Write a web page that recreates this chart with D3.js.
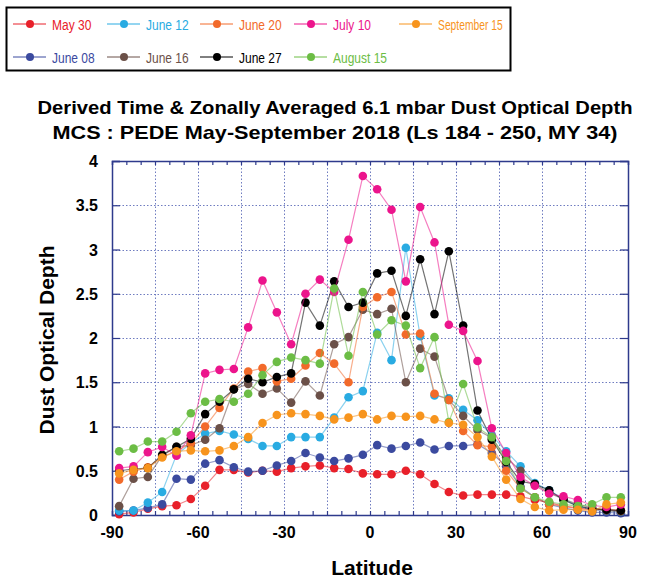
<!DOCTYPE html>
<html lang="en">
  <head>
    <meta charset="utf-8">
    <title>MCS Dust Optical Depth</title>
    <script type="text/javascript" src="https://cdnjs.cloudflare.com/ajax/libs/d3/7.8.5/d3.min.js"></script>
    <style type="text/css">
      body { margin: 0; background: #fff; }
      text { font-family: "Liberation Sans", Arial, sans-serif; }
    </style>
  </head>
  <body>
    <script type="text/javascript">

      //Width and height
      var w = 647;
      var h = 579;

      //Latitude bin centres
      var latitudes = [-87.5, -82.5, -77.5, -72.5, -67.5, -62.5, -57.5, -52.5, -47.5, -42.5,
                       -37.5, -32.5, -27.5, -22.5, -17.5, -12.5, -7.5, -2.5, 2.5, 7.5,
                       12.5, 17.5, 22.5, 27.5, 32.5, 37.5, 42.5, 47.5, 52.5, 57.5,
                       62.5, 67.5, 72.5, 77.5, 82.5, 87.5];

      var xTicks = [-90, -60, -30, 0, 30, 60, 90];
      var yTicks = [0, 0.5, 1, 1.5, 2, 2.5, 3, 3.5, 4];

      //Series, in legend order
      var seriesNames = ["May 30", "June 08", "June 12", "June 16", "June 20",
                         "June 27", "July 10", "August 15", "September 15"];
      var seriesColors = ["#e8202a", "#3b4a9f", "#29abe2", "#6b5048", "#f26a2a",
                          "#000000", "#ec148c", "#6cbd45", "#f7941d"];

      var may30 = [0.01, 0.03, 0.07, 0.10, 0.11, 0.18, 0.33, 0.51, 0.51, 0.48, 0.50, 0.49,
                   0.53, 0.55, 0.56, 0.53, 0.52, 0.47, 0.46, 0.46, 0.50, 0.46, 0.35, 0.26,
                   0.22, 0.23, 0.23, 0.23, 0.21, 0.17, 0.14, 0.10, 0.08, 0.06, 0.05, 0.05];
      var june08 = [0.04, 0.05, 0.08, 0.12, 0.41, 0.40, 0.58, 0.62, 0.54, 0.49, 0.50, 0.56,
                    0.61, 0.70, 0.65, 0.61, 0.64, 0.68, 0.79, 0.75, 0.78, 0.82, 0.74, 0.78,
                    0.78, 0.80, 0.70, 0.55, 0.32, 0.20, 0.12, 0.08, 0.05, 0.03, 0.03, 0.02];
      var june12 = [0.05, 0.05, 0.14, 0.26, 0.68, 0.81, 0.92, 0.95, 0.91, 0.86, 0.78, 0.78,
                    0.88, 0.88, 0.88, 1.10, 1.33, 1.40, 2.06, 1.75, 3.02, 2.02, 1.35, 1.32,
                    1.19, 1.07, 0.90, 0.72, 0.55, 0.36, 0.28, 0.18, 0.10, 0.06, 0.05, 0.04];
      var june16 = [0.10, 0.41, 0.43, 0.67, 0.77, 0.79, 0.85, 0.98, 1.42, 1.48, 1.37, 1.43,
                    1.27, 1.51, 1.35, 1.93, 2.01, 2.32, 2.27, 2.33, 1.50, 1.88, 1.79, 1.30,
                    1.12, 0.96, 0.87, 0.65, 0.50, 0.35, 0.25, 0.18, 0.12, 0.08, 0.05, 0.04];
      var june20 = [0.40, 0.49, 0.54, 0.66, 0.72, 0.81, 1.00, 1.21, 1.43, 1.62, 1.66, 1.51,
                    1.54, 1.69, 1.83, 1.71, 1.50, 2.35, 2.46, 2.52, 2.04, 2.05, 1.37, 1.30,
                    0.95, 0.79, 0.77, 0.50, 0.30, 0.20, 0.12, 0.10, 0.07, 0.06, 0.07, 0.05];
      var june27 = [0.50, 0.52, 0.53, 0.68, 0.77, 0.86, 1.14, 1.28, 1.42, 1.54, 1.50, 1.56,
                    1.60, 2.40, 2.14, 2.64, 2.35, 2.40, 2.73, 2.76, 2.25, 2.89, 2.27, 2.98,
                    2.14, 1.18, 0.85, 0.60, 0.38, 0.35, 0.28, 0.17, 0.10, 0.07, 0.06, 0.05];
      var july10 = [0.53, 0.55, 0.71, 0.77, 0.67, 0.90, 1.60, 1.64, 1.65, 2.12, 2.65, 2.29,
                    1.93, 2.50, 2.66, 2.52, 3.11, 3.83, 3.68, 3.45, 2.64, 3.48, 3.08, 2.15,
                    2.08, 1.74, 0.98, 0.70, 0.43, 0.33, 0.24, 0.21, 0.17, 0.11, 0.09, 0.12];
      var aug15 = [0.72, 0.75, 0.83, 0.83, 0.94, 1.15, 1.28, 1.31, 1.28, 1.37, 1.58, 1.73,
                   1.78, 1.75, 1.71, 2.56, 1.80, 2.52, 2.04, 2.20, 2.14, 1.66, 2.01, 1.05,
                   1.48, 0.99, 0.88, 0.61, 0.30, 0.20, 0.15, 0.12, 0.10, 0.12, 0.20, 0.20];
      var sep15 = [0.47, 0.51, 0.53, 0.65, 0.72, 0.73, 0.72, 0.73, 0.78, 0.88, 1.04, 1.13,
                   1.15, 1.14, 1.12, 1.08, 1.10, 1.14, 1.08, 1.12, 1.11, 1.12, 1.08, 1.04,
                   1.02, 0.88, 0.66, 0.40, 0.18, 0.09, 0.05, 0.06, 0.06, 0.04, 0.12, 0.14];

      var seriesValues = [may30, june08, june12, june16, june20, june27, july10, aug15, sep15];

      var series = seriesNames.map(function(name, i) {
        return {
          name: name,
          color: seriesColors[i],
          points: latitudes.map(function(lat, j) { return { lat: lat, v: seriesValues[i][j] }; })
        };
      });

      //Plot box (note: "top" is a reserved window property, so prefix these)
      var plotLeft = 112, plotRight = 628, plotTop = 161, plotBottom = 515;
      var axisColor = "#2e3a8c";

      var x = d3.scaleLinear().domain([-90, 90]).range([plotLeft, plotRight]);
      var y = d3.scaleLinear().domain([0, 4]).range([plotBottom, plotTop]);

      var svg = d3.select("body")
                  .append("svg")
                  .attr("width", w)
                  .attr("height", h);

      //Legend box
      svg.append("rect")
         .attr("x", 6.5).attr("y", 7.5)
         .attr("width", 504).attr("height", 63)
         .attr("fill", "none")
         .attr("stroke", "#000")
         .attr("stroke-width", 2);

      var legendCols = [13, 107, 200, 294, 399];
      var legendRows = [24, 57];

      var legend = svg.selectAll("g.legend")
                      .data(series)
                      .enter()
                      .append("g")
                      .attr("class", "legend")
                      .attr("transform", function(d, i) {
                        return "translate(" + legendCols[Math.floor(i / 2)] + "," + legendRows[i % 2] + ")";
                      });

      legend.append("line")
            .attr("x1", 0).attr("x2", 33)
            .attr("stroke", function(d) { return d.color; })
            .attr("stroke-width", 1);

      legend.append("circle")
            .attr("cx", 17).attr("r", 4)
            .attr("fill", function(d) { return d.color; });

      //narrow-looking legend text: squeeze horizontally
      legend.append("text")
            .attr("transform", "translate(39,5.5) scale(0.8,1)")
            .attr("font-size", 15)
            .attr("fill", function(d) { return d.color; })
            .text(function(d) { return d.name; });

      //last entry is squeezed a bit more to fit the box
      legend.filter(function(d, i) { return i === series.length - 1; })
            .select("text")
            .attr("textLength", 81)
            .attr("lengthAdjust", "spacingAndGlyphs");

      //Title
      svg.append("text")
         .attr("x", 335).attr("y", 114)
         .attr("text-anchor", "middle")
         .attr("font-size", 19).attr("font-weight", "bold")
         .attr("textLength", 595).attr("lengthAdjust", "spacingAndGlyphs")
         .text("Derived Time & Zonally Averaged 6.1 mbar Dust Optical Depth");

      svg.append("text")
         .attr("x", 335).attr("y", 139)
         .attr("text-anchor", "middle")
         .attr("font-size", 19).attr("font-weight", "bold")
         .attr("textLength", 565).attr("lengthAdjust", "spacingAndGlyphs")
         .text("MCS : PEDE May-September 2018 (Ls 184 - 250, MY 34)");

      //Grid lines
      var grid = svg.append("g")
                    .attr("stroke", "#6f7cc0")
                    .attr("stroke-width", 1)
                    .attr("stroke-dasharray", "1.5,2");

      grid.selectAll("line.vx")
          .data(d3.range(-75, 90, 15))
          .enter()
          .append("line")
          .attr("x1", function(d) { return Math.round(x(d)) + 0.5; })
          .attr("x2", function(d) { return Math.round(x(d)) + 0.5; })
          .attr("y1", plotTop).attr("y2", plotBottom);

      grid.selectAll("line.hy")
          .data(yTicks.slice(1, -1))
          .enter()
          .append("line")
          .attr("y1", function(d) { return Math.round(y(d)) + 0.5; })
          .attr("y2", function(d) { return Math.round(y(d)) + 0.5; })
          .attr("x1", plotLeft).attr("x2", plotRight);

      //Axes drawn with inward ticks
      var xBottom = d3.axisBottom(x).tickValues(d3.range(-85, 90, 5)).tickSize(-4).tickFormat("");
      var xTop = d3.axisTop(x).tickValues(d3.range(-85, 90, 5)).tickSize(-4).tickFormat("");
      var yLeft = d3.axisLeft(y).tickValues(yTicks).tickSize(-8).tickFormat("");
      var yRight = d3.axisRight(y).tickValues(yTicks).tickSize(-8).tickFormat("");

      [[xBottom, "translate(0," + plotBottom + ")"], [xTop, "translate(0," + plotTop + ")"],
       [yLeft, "translate(" + plotLeft + ",0)"], [yRight, "translate(" + plotRight + ",0)"]].forEach(function(a) {
        var g = svg.append("g").attr("transform", a[1]).call(a[0]);
        g.selectAll("path").attr("stroke", axisColor).attr("stroke-width", 1.5);
        g.selectAll("line").attr("stroke", axisColor).attr("stroke-width", 1.2);
      });

      //Tick labels
      svg.selectAll("text.xl")
         .data(xTicks)
         .enter()
         .append("text")
         .attr("x", function(d) { return x(d); })
         .attr("y", 538)
         .attr("text-anchor", "middle")
         .attr("font-size", 16).attr("font-weight", "bold")
         .text(function(d) { return d; });

      svg.selectAll("text.yl")
         .data(yTicks)
         .enter()
         .append("text")
         .attr("x", 98)
         .attr("y", function(d) { return y(d) + 6; })
         .attr("text-anchor", "end")
         .attr("font-size", 16).attr("font-weight", "bold")
         .text(function(d) { return d; });

      //Axis titles
      svg.append("text")
         .attr("x", 372).attr("y", 575)
         .attr("text-anchor", "middle")
         .attr("font-size", 21).attr("font-weight", "bold")
         .text("Latitude");

      svg.append("text")
         .attr("transform", "translate(54,340) rotate(-90)")
         .attr("text-anchor", "middle")
         .attr("font-size", 21).attr("font-weight", "bold")
         .text("Dust Optical Depth");

      //Series lines and markers
      var line = d3.line()
                   .x(function(d) { return x(d.lat); })
                   .y(function(d) { return y(d.v); });

      var groups = svg.selectAll("g.series")
                      .data(series)
                      .enter()
                      .append("g")
                      .attr("class", "series");

      groups.append("path")
            .attr("d", function(d) { return line(d.points); })
            .attr("fill", "none")
            .attr("stroke", function(d) { return d.color; })
            .attr("stroke-opacity", 0.55)
            .attr("stroke-width", 1.2);

      groups.selectAll("circle")
            .data(function(d) { return d.points.map(function(p) { return { lat: p.lat, v: p.v, color: d.color }; }); })
            .enter()
            .append("circle")
            .attr("cx", function(d) { return x(d.lat); })
            .attr("cy", function(d) { return y(d.v); })
            .attr("r", 4.3)
            .attr("fill", function(d) { return d.color; });

    </script>
  </body>
</html>
